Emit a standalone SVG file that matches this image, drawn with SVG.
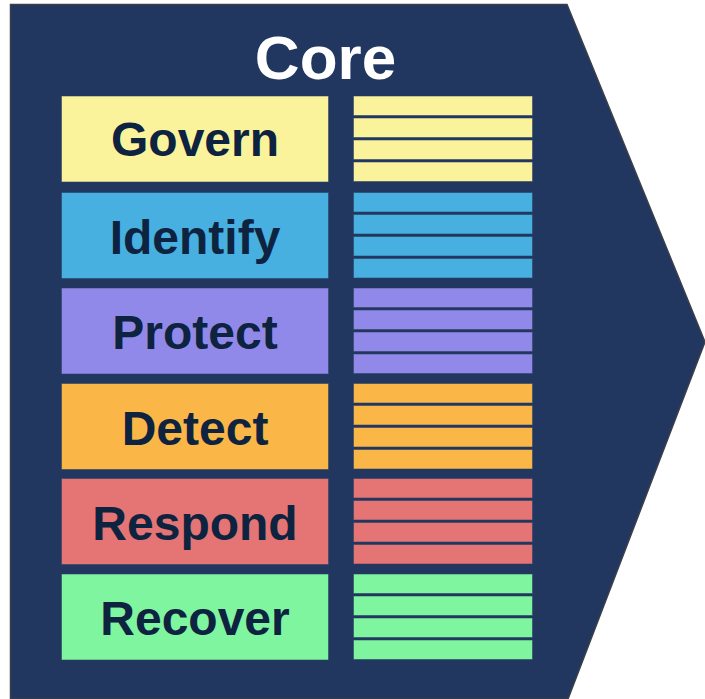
<svg xmlns="http://www.w3.org/2000/svg" width="705" height="699" viewBox="0 0 705 699">
  <style>
    .label { font-family: "Liberation Sans", Arial, sans-serif; font-weight: bold; font-size: 48px; fill: #0e2340; text-anchor: middle; }
    .title { font-family: "Liberation Sans", Arial, sans-serif; font-weight: bold; font-size: 62px; fill: #ffffff; text-anchor: middle; }
    .box { stroke: #2b3f63; stroke-opacity: 0.55; stroke-width: 1; }
    .govern { fill: #faf39b; }
    .identify { fill: #47b0e0; }
    .protect { fill: #9189e9; }
    .detect { fill: #fab646; }
    .respond { fill: #e47574; }
    .recover { fill: #7ff59f; }
  </style>

  <!-- Core chevron panel -->
  <g id="core">
    <polygon points="10.5,4.5 567,4.5 705,342 568,699 10.5,699" fill="#213760" stroke="#3a3f4a" stroke-width="1.5"/>
    <text class="title" x="325.5" y="79">Core</text>
  </g>

  <!-- Functions: label box and four category stripes each -->
  <g id="govern">
    <rect class="box govern" x="61.5" y="96" width="267" height="86"/>
    <text class="label" x="195" y="156">Govern</text>
    <rect class="box govern" x="353.5" y="96" width="179" height="19.5"/>
    <rect class="box govern" x="353.5" y="118" width="179" height="19.5"/>
    <rect class="box govern" x="353.5" y="140" width="179" height="19.5"/>
    <rect class="box govern" x="353.5" y="162" width="179" height="19.5"/>
  </g>

  <g id="identify">
    <rect class="box identify" x="61.5" y="192.5" width="267" height="86"/>
    <text class="label" x="195" y="254">Identify</text>
    <rect class="box identify" x="353.5" y="192.5" width="179" height="19.5"/>
    <rect class="box identify" x="353.5" y="214.5" width="179" height="19.5"/>
    <rect class="box identify" x="353.5" y="236.5" width="179" height="19.5"/>
    <rect class="box identify" x="353.5" y="258.5" width="179" height="19.5"/>
  </g>

  <g id="protect">
    <rect class="box protect" x="61.5" y="288" width="267" height="86"/>
    <text class="label" x="195" y="349">Protect</text>
    <rect class="box protect" x="353.5" y="288" width="179" height="19.5"/>
    <rect class="box protect" x="353.5" y="310" width="179" height="19.5"/>
    <rect class="box protect" x="353.5" y="332" width="179" height="19.5"/>
    <rect class="box protect" x="353.5" y="354" width="179" height="19.5"/>
  </g>

  <g id="detect">
    <rect class="box detect" x="61.5" y="383.5" width="267" height="86"/>
    <text class="label" x="195" y="445">Detect</text>
    <rect class="box detect" x="353.5" y="383.5" width="179" height="19.5"/>
    <rect class="box detect" x="353.5" y="405.5" width="179" height="19.5"/>
    <rect class="box detect" x="353.5" y="427.5" width="179" height="19.5"/>
    <rect class="box detect" x="353.5" y="449.5" width="179" height="19.5"/>
  </g>

  <g id="respond">
    <rect class="box respond" x="61.5" y="478.5" width="267" height="86"/>
    <text class="label" x="195" y="540">Respond</text>
    <rect class="box respond" x="353.5" y="478.5" width="179" height="19.5"/>
    <rect class="box respond" x="353.5" y="500.5" width="179" height="19.5"/>
    <rect class="box respond" x="353.5" y="522.5" width="179" height="19.5"/>
    <rect class="box respond" x="353.5" y="544.5" width="179" height="19.5"/>
  </g>

  <g id="recover">
    <rect class="box recover" x="61.5" y="574" width="267" height="86"/>
    <text class="label" x="195" y="635">Recover</text>
    <rect class="box recover" x="353.5" y="574" width="179" height="19.5"/>
    <rect class="box recover" x="353.5" y="596" width="179" height="19.5"/>
    <rect class="box recover" x="353.5" y="618" width="179" height="19.5"/>
    <rect class="box recover" x="353.5" y="640" width="179" height="19.5"/>
  </g>

  <!-- no connectors in this figure -->
  <g id="connectors"/>
</svg>
